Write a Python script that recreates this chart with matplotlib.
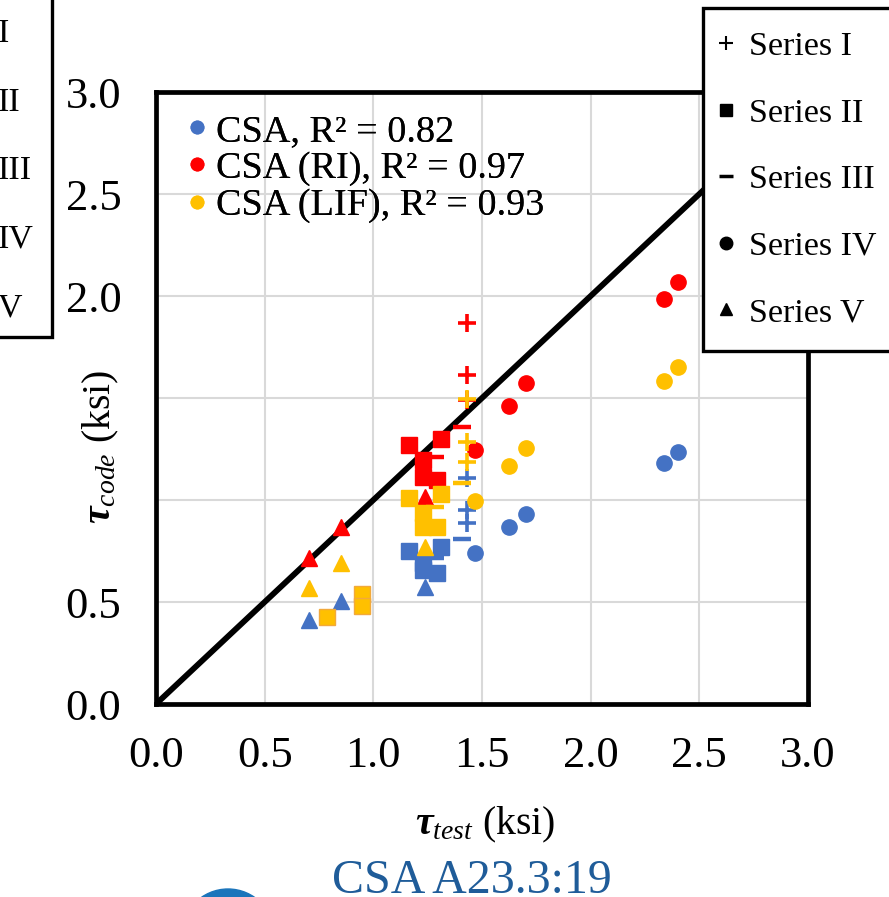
import numpy as np
import matplotlib
matplotlib.use('Agg')
import matplotlib.pyplot as plt
from matplotlib.lines import Line2D
from matplotlib.patches import Ellipse, Rectangle

plt.rcParams['font.family'] = ['Liberation Serif', 'DejaVu Serif']
plt.rcParams['mathtext.fontset'] = 'custom'
plt.rcParams['mathtext.rm'] = 'Liberation Serif'
plt.rcParams['mathtext.it'] = 'Liberation Serif:italic'
plt.rcParams['mathtext.bf'] = 'Liberation Serif:bold:italic'

# colours (CSA, CSA RI, CSA LIF)
methods = ['CSA', 'CSA (RI)', 'CSA (LIF)']
method_colors = ['#4472C4', '#FF0000', '#FFC000']
r2 = ['0.82', '0.97', '0.93']

# Series I  (+)
s1_test = [1.43, 1.43, 1.43]
s1_csa = [1.108, 0.951, 0.889]
s1_ri = [1.869, 1.613, 1.49]
s1_lif = [1.495, 1.286, 1.186]

# Series II (squares)
s2_test = [1.164, 1.312, 1.229, 1.229, 1.293]
s2_csa = [0.750, 0.770, 0.691, 0.657, 0.642]
s2_ri = [1.270, 1.299, 1.196, 1.113, 1.098]
s2_lif = [1.010, 1.029, 0.936, 0.868, 0.868]
s2_extra_test = [0.787, 0.948, 0.948]
s2_extra_lif = [0.425, 0.539, 0.480]

# Series III (dash)
s3_test = [1.408, 1.284]
s3_csa = [0.809, 0.716]
s3_ri = [1.358, 1.211]
s3_lif = [1.083, 0.966]

# Series IV (circles)
s4_test = [1.468, 1.624, 1.703, 2.338, 2.402]
s4_csa = [0.740, 0.868, 0.931, 1.180, 1.237]
s4_ri = [1.245, 1.461, 1.574, 1.985, 2.070]
s4_lif = [0.995, 1.167, 1.255, 1.583, 1.653]

# Series V (triangles)
s5_test = [0.706, 0.851, 1.238]
s5_csa = [0.412, 0.506, 0.575]
s5_ri = [0.714, 0.869, 1.015]
s5_lif = [0.567, 0.690, 0.771]

series_names = ['Series I', 'Series II', 'Series III', 'Series IV', 'Series V']

W, H = 889, 897
fig = plt.figure(figsize=(W / 100, H / 100), dpi=100)
ax = fig.add_axes([156 / W, 1 - 704 / H, 652 / W, 612 / H])

ax.plot([0, 3], [0, 3], color='black', lw=4.2, zorder=2, solid_capstyle='butt')

marker_kw = {
    'I': dict(marker='+', ms=13, mew=2.6),
    'II': dict(marker='s', ms=12),
    'III': dict(marker='_', ms=13, mew=3.2),
    'IV': dict(marker='o', ms=11),
    'V': dict(marker='^', ms=12),
}

data = [
    ('I', s1_test, [s1_csa, s1_ri, s1_lif]),
    ('II', s2_test, [s2_csa, s2_ri, s2_lif]),
    ('III', s3_test, [s3_csa, s3_ri, s3_lif]),
    ('IV', s4_test, [s4_csa, s4_ri, s4_lif]),
    ('V', s5_test, [s5_csa, s5_ri, s5_lif]),
]

for m in range(3):
    for key, xt, ys in data:
        ax.plot(xt, ys[m], ls='none', color=method_colors[m], mec=method_colors[m],
                zorder=3 + m, **marker_kw[key])
ax.plot(s2_extra_test, s2_extra_lif, ls='none', color=method_colors[2], mec='#F2A93B',
        mew=1.0, zorder=6, **marker_kw['II'])

ax.set_xlim(0, 3)
ax.set_ylim(0, 3)
ticks = np.arange(0, 3.01, 0.5)
ax.set_xticks(ticks)
ax.set_yticks(ticks)
ax.set_xticklabels([f'{t:.1f}' for t in ticks])
ax.set_yticklabels([f'{t:.1f}' for t in ticks])
ax.tick_params(length=0, labelsize=32)
ax.tick_params(axis='x', pad=23)
ax.tick_params(axis='y', pad=25)
ax.grid(True, color='#D9D9D9', lw=1.5, zorder=0)
ax.set_axisbelow(True)
for sp in ax.spines.values():
    sp.set_linewidth(3.4)
    sp.set_color('black')

# legend of methods
h1 = [Line2D([], [], ls='none', marker='o', ms=9, color=c) for c in method_colors]
l1 = [f'{m}, R² = {r}' for m, r in zip(methods, r2)]
leg1 = ax.legend(h1, l1, loc='upper left', bbox_to_anchor=((188 - 156) / 652, (704 - 114) / 612),
                 frameon=False, fontsize=27.5, handlelength=0.45, handletextpad=0.27,
                 labelspacing=0.06, borderpad=0, borderaxespad=0)
ax.add_artist(leg1)

# legend of series (figure-level, on top of axes)
h2 = [Line2D([], [], ls='none', marker='+', ms=10, mew=1.5, color='black'),
      Line2D([], [], ls='none', marker='s', ms=9, color='black'),
      Line2D([], [], ls='none', marker='_', ms=10, mew=2.5, color='black'),
      Line2D([], [], ls='none', marker='o', ms=9, color='black'),
      Line2D([], [], ls='none', marker='^', ms=8, color='black')]
leg2 = fig.legend(h2, series_names, loc='upper left', bbox_to_anchor=(703 / W, 1 - 8 / H),
                  fontsize=24.5, handlelength=0.0, handletextpad=0.68, labelspacing=1.05,
                  borderpad=0.68, borderaxespad=0, fancybox=False, framealpha=1,
                  edgecolor='black')
leg2.get_frame().set_linewidth(2.4)

# cut-off legend at the left edge
fig.patches.append(Rectangle((-10 / W, 1 - 337 / H), 62 / W, 360 / H, transform=fig.transFigure,
                             fill=False, ec='black', lw=2.4))
for i, s in enumerate(['I', 'II', 'III', 'IV', 'V']):
    fig.text(-2 / W, 1 - (34 + 68.5 * i) / H, s, fontsize=24.5, ha='left', va='center')

# axis labels
fig.text(485 / W, 1 - 825 / H, r'$\mathbf{\tau}_{test}$ (ksi)', fontsize=28.5, ha='center', va='center')
fig.text(101 / W, 1 - 447 / H, r'$\mathbf{\tau}_{code}$ (ksi)', fontsize=28.5, ha='center', va='center',
         rotation=90, bbox=dict(fc='white', ec='none', pad=9))

# caption fragment at the bottom
fig.text(332 / W, 1 - 893 / H, 'CSA A23.3:19', fontsize=34.5, color='#1F5C99', ha='left', va='baseline')
fig.patches.append(Ellipse((228 / W, -42 / H), 96 / W, 100 / H, transform=fig.transFigure,
                           color='#1B75BB'))

fig.savefig('out.png', dpi=100)
